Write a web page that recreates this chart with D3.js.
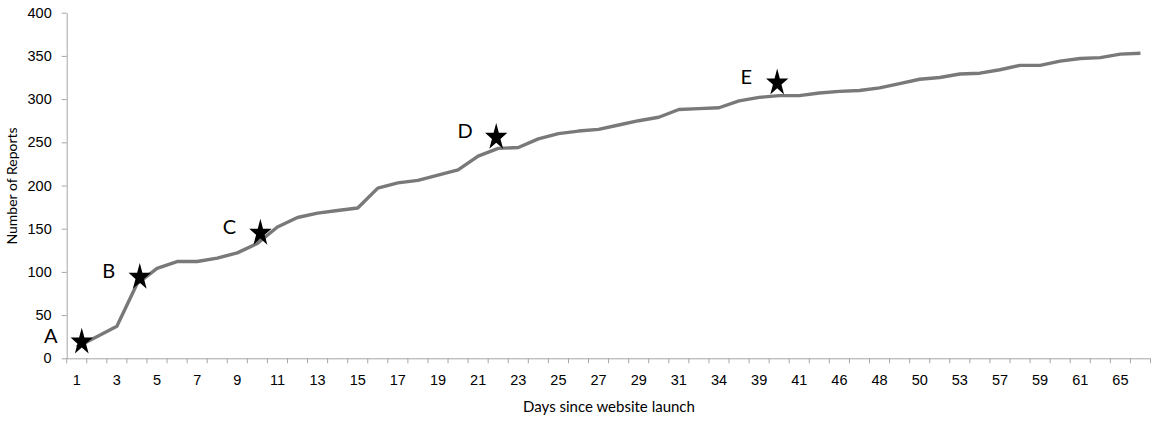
<!DOCTYPE html>
<html lang='en'>

<head>
	<meta charset='UTF-8'/>
	<title>Number of Reports by day</title>
	<script src='https://cdnjs.cloudflare.com/ajax/libs/d3/7.8.5/d3.min.js'></script>
	<style>
		body {margin: 0; background: #fff;}
		svg {display: block; font-family: Lato, 'Open Sans', sans-serif;}
		.axis text {fill: #000; font-size: 14.5px;}
		.axis .domain {stroke: #a6a6a6;}
		.axis line, .tick-mark {stroke: #a6a6a6;}
	</style>
</head>

<body>
	<div class='graph'></div>
	<script>
		// days with a report count (categories, only every other one is labelled)
		const days = [1, 2, 3, 4, 5, 6, 7, 8, 9, 10, 11, 12, 13, 14, 15, 16, 17, 18, 19, 20,
			21, 22, 23, 24, 25, 26, 27, 28, 29, 30, 31, 33, 34, 37, 39, 40, 41, 44, 46, 47,
			48, 49, 50, 52, 53, 55, 57, 58, 59, 60, 61, 63, 65, 66];

		// cumulative number of reports
		const reports = [13, 25, 37, 86, 104, 112, 112, 116, 122, 133, 152, 163, 168, 171, 174, 197, 203, 206, 212, 218,
			234, 243, 244, 254, 260, 263, 265, 270, 275, 279, 288, 289, 290, 298, 302, 304, 304, 307, 309, 310,
			313, 318, 323, 325, 329, 330, 334, 339, 339, 344, 347, 348, 352, 353];

		// star annotations: label, position on the category axis (index), value
		const markLabels = ['A', 'B', 'C', 'D', 'E'];
		const markIndex = [0.25, 3.14, 9.15, 20.9, 34.9];
		const markValues = [20, 95, 146, 257, 320];

		const yTicks = [0, 50, 100, 150, 200, 250, 300, 350, 400];

		var width = 1158;
		var height = 421;
		margin = ({top: 12.7, right: 7.5, bottom: 62.7, left: 66.7});

		var svg = d3
			.select('.graph')
			.append('svg')
			.attr('width', width)
			.attr('height', height);

		// X-Axis (categories)
		const X_SCALE = d3
			.scaleBand()
			.domain(days)
			.range([margin.left, width - margin.right])
			.padding(0);
		const X_INDEX = d3
			.scaleLinear()
			.domain([0, days.length])
			.range([margin.left, width - margin.right]);

		let xAxis = svg.append('g')
			.attr('class', 'axis')
			.attr('transform', 'translate(0, ' + (height - margin.bottom) + ')')
			.call(d3.axisBottom(X_SCALE)
				.tickValues(days.filter((d, i) => i % 2 === 0))
				.tickSize(0)
				.tickPadding(16));
		xAxis.select('.domain').attr('d', 'M' + margin.left + ',0.5H' + (width - margin.right));
		// tick marks between categories
		xAxis.selectAll('.tick-mark')
			.data(days.map(d => X_SCALE(d)).concat([width - margin.right]))
			.enter()
			.append('line')
			.attr('class', 'tick-mark')
			.attr('x1', d => d)
			.attr('x2', d => d)
			.attr('y1', 0)
			.attr('y2', 5);

		svg.append('text')
			.text('Days since website launch')
			.attr('x', 609)
			.attr('y', 412)
			.attr('text-anchor', 'middle')
			.style('font-size', '15px')
			.style('fill', '#000');

		// Y-Axis
		const Y_SCALE = d3
			.scaleLinear()
			.domain([0, 400])
			.range([height - margin.bottom, margin.top]);
		svg.append('g')
			.attr('class', 'axis')
			.attr('transform', 'translate(' + margin.left + ', 0)')
			.call(d3.axisLeft(Y_SCALE)
				.tickValues(yTicks)
				.tickSize(5)
				.tickSizeOuter(0)
				.tickPadding(10));
		svg.append('text')
			.attr('transform', 'rotate(-90)')
			.attr('x', -186)
			.attr('y', 17)
			.attr('text-anchor', 'middle')
			.style('font-size', '14px')
			.style('fill', '#000')
			.text('Number of Reports');

		// line
		const line = d3.line()
			.x((d, i) => X_SCALE(days[i]) + X_SCALE.bandwidth() / 2)
			.y(d => Y_SCALE(d));
		svg.append('path')
			.datum(reports)
			.attr('d', line)
			.style('fill', 'none')
			.style('stroke', '#797979')
			.style('stroke-width', 3.4)
			.style('stroke-linejoin', 'round');

		// stars and their letters
		const star = d3.symbol().type(d3.symbolStar).size(230);
		svg.selectAll('.star')
			.data(markValues)
			.enter()
			.append('path')
			.attr('class', 'star')
			.attr('d', star)
			.attr('transform', (d, i) => 'translate(' + X_INDEX(markIndex[i] + 0.5) + ',' + (Y_SCALE(d) + 1) + ') scale(0.82, 1)')
			.style('fill', '#000');
		svg.selectAll('.mark-label')
			.data(markLabels)
			.enter()
			.append('text')
			.attr('class', 'mark-label')
			.attr('x', (d, i) => X_INDEX(markIndex[i] + 0.5) - 31)
			.attr('y', (d, i) => Y_SCALE(markValues[i]) - 5)
			.attr('dy', '0.35em')
			.attr('text-anchor', 'middle')
			.style('font-size', '20px')
			.style('fill', '#000')
			.text(d => d);
	</script>
</body>

</html>
